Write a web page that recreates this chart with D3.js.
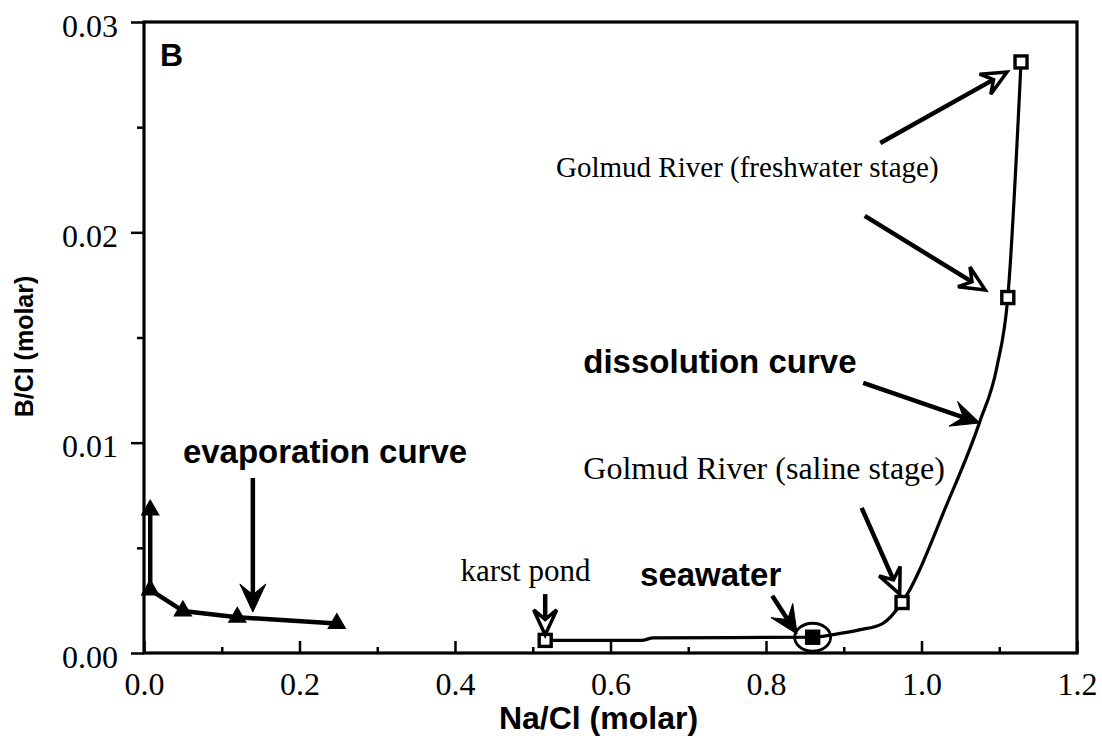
<!DOCTYPE html>
<html>
<head>
<meta charset="utf-8">
<script src="https://cdn.jsdelivr.net/npm/d3@7"></script>
<style>
  html, body { margin: 0; padding: 0; background: #fff; }
  svg { display: block; }
</style>
</head>
<body>
<svg id="chart" width="1102" height="741"></svg>
<script>
// Na/Cl vs B/Cl (molar ratios)

// Evaporation curve samples (filled triangles)
const evapNaCl = [0.008, 0.008, 0.050, 0.120, 0.248];
const evapBCl  = [0.0068, 0.0030, 0.0020, 0.0017, 0.0014];

// Dissolution curve trace
const dissNaCl = [0.516, 0.640, 0.655, 0.860, 0.890, 0.920, 0.950, 0.975, 1.033, 1.075, 1.097, 1.111, 1.128];
const dissBCl  = [0.0006, 0.0006, 0.00072, 0.00075, 0.0009, 0.0011, 0.0014, 0.0024, 0.0071, 0.0110, 0.0136, 0.0169, 0.0281];

// Water samples (squares)
const sampleNames = ["karst pond", "seawater", "saline stage", "freshwater stage", "freshwater stage"];
const sampleNaCl  = [0.516, 0.860, 0.975, 1.111, 1.128];
const sampleBCl   = [0.0006, 0.00075, 0.0024, 0.0169, 0.0281];
const sampleFilled = [false, true, false, false, false];

// Axis ticks
const xMajorTicks = [0, 0.2, 0.4, 0.6, 0.8, 1.0, 1.2];
const xMinorTicks = [0.1, 0.3, 0.5, 0.7, 0.9, 1.1];
const yMajorTicks = [0, 0.01, 0.02, 0.03];
const yMinorTicks = [0.005, 0.015, 0.025];

const svg = d3.select("#chart");
const W = 1102, H = 741;
svg.append("rect").attr("width", W).attr("height", H).attr("fill", "#fff");

const x = d3.scaleLinear().domain([0, 1.2]).range([144, 1077]);
const y = d3.scaleLinear().domain([0, 0.03]).range([653, 22]);

const SERIF = "'Liberation Serif', 'Times New Roman', serif";
const SANS = "'Liberation Sans', Arial, Helvetica, sans-serif";

// ---- axes ----
const gx = svg.append("g").attr("transform", `translate(0,${y(0)})`);
gx.call(d3.axisBottom(x).tickValues(xMajorTicks).tickSize(-12).tickFormat(d3.format(".1f")));
const gxm = svg.append("g").attr("transform", `translate(0,${y(0)})`);
gxm.call(d3.axisBottom(x).tickValues(xMinorTicks).tickSize(-6).tickFormat(""));
[gx, gxm].forEach(g => {
  g.select(".domain").remove();
  g.selectAll(".tick line").attr("stroke", "#000").attr("stroke-width", 2.5);
});
gx.selectAll(".tick text")
  .attr("y", 0).attr("dy", 42)
  .attr("font-family", SERIF).attr("font-size", 32).attr("fill", "#000");

const gy = svg.append("g").attr("transform", `translate(${x(0)},0)`);
gy.call(d3.axisLeft(y).tickValues(yMajorTicks).tickSize(13).tickPadding(13).tickFormat(d3.format(".2f")));
const gym = svg.append("g").attr("transform", `translate(${x(0)},0)`);
gym.call(d3.axisLeft(y).tickValues(yMinorTicks).tickSize(7).tickFormat(""));
[gy, gym].forEach(g => {
  g.select(".domain").remove();
  g.selectAll(".tick line").attr("stroke", "#000").attr("stroke-width", 2.5);
});
gy.selectAll(".tick text")
  .attr("dy", 14)
  .attr("font-family", SERIF).attr("font-size", 32).attr("fill", "#000");

// frame
svg.append("rect")
  .attr("x", x(0)).attr("y", y(0.03))
  .attr("width", x(1.2) - x(0)).attr("height", y(0) - y(0.03))
  .attr("fill", "none").attr("stroke", "#000").attr("stroke-width", 3.2);

// axis titles
svg.append("text")
  .attr("x", (x(0) + x(1.2)) / 2 - 12).attr("y", 729)
  .attr("text-anchor", "middle")
  .attr("font-family", SANS).attr("font-weight", "bold").attr("font-size", 32)
  .text("Na/Cl (molar)");
svg.append("text")
  .attr("transform", `translate(33,${(y(0) + y(0.03)) / 2 + 9}) rotate(-90)`)
  .attr("text-anchor", "middle")
  .attr("font-family", SANS).attr("font-weight", "bold").attr("font-size", 25)
  .text("B/Cl (molar)");

// ---- curves ----
const evap = evapNaCl.map((d, i) => [d, evapBCl[i]]);
const diss = dissNaCl.map((d, i) => [d, dissBCl[i]]);

svg.append("path")
  .attr("d", d3.line().x(d => x(d[0])).y(d => y(d[1]))(evap))
  .attr("fill", "none").attr("stroke", "#000").attr("stroke-width", 4.5)
  .attr("stroke-linejoin", "round");

svg.append("path")
  .attr("d", d3.line().x(d => x(d[0])).y(d => y(d[1])).curve(d3.curveMonotoneX)(diss))
  .attr("fill", "none").attr("stroke", "#000").attr("stroke-width", 3.2)
  .attr("stroke-linejoin", "round");

// triangles
svg.selectAll(".tri").data(evap).enter().append("path")
  .attr("class", "tri")
  .attr("transform", d => `translate(${x(d[0])},${y(d[1])})`)
  .attr("d", d3.symbol().type(d3.symbolTriangle).size(160))
  .attr("fill", "#000");

// seawater ellipse
const swIdx = sampleNames.indexOf("seawater");
svg.append("ellipse")
  .attr("cx", x(sampleNaCl[swIdx])).attr("cy", y(sampleBCl[swIdx]))
  .attr("rx", 18).attr("ry", 14)
  .attr("fill", "none").attr("stroke", "#000").attr("stroke-width", 2.8);

// squares
const samples = sampleNaCl.map((d, i) => ({ nx: d, by: sampleBCl[i], filled: sampleFilled[i] }));
svg.selectAll(".sq").data(samples).enter().append("rect")
  .attr("class", "sq")
  .attr("x", d => x(d.nx) - 6).attr("y", d => y(d.by) - 6)
  .attr("width", 12).attr("height", 12)
  .attr("fill", d => d.filled ? "#000" : "#fff")
  .attr("stroke", "#000").attr("stroke-width", 3.4);

// ---- annotations ----
// arrow: from [NaCl, BCl] to [NaCl, BCl]; head "solid" or "open"
const arrows = [
  { from: [0.140, 0.00832], to: [0.140, 0.00195], head: "solid" },
  { from: [0.516, 0.00280], to: [0.516, 0.00086], head: "open" },
  { from: [0.808, 0.00272], to: [0.840, 0.00090], head: "solid" },
  { from: [0.923, 0.00690], to: [0.972, 0.00280], head: "open" },
  { from: [0.925, 0.01284], to: [1.075, 0.01094], head: "solid" },
  { from: [0.927, 0.02078], to: [1.082, 0.01726], head: "open" },
  { from: [0.947, 0.02425], to: [1.110, 0.02762], head: "open" }
];

function drawArrow(a) {
  const x1 = x(a.from[0]), y1 = y(a.from[1]);
  const x2 = x(a.to[0]), y2 = y(a.to[1]);
  const ang = Math.atan2(y2 - y1, x2 - x1);
  const L = a.head === "solid" ? 28 : 25;
  const hw = a.head === "solid" ? 13 : 11.5;
  const notch = L * 0.62;
  const ca = Math.cos(ang), sa = Math.sin(ang);
  const pt = (u, v) => [x2 + u * ca - v * sa, y2 + u * sa + v * ca];
  const back = pt(-notch, 0);
  svg.append("line")
    .attr("x1", x1).attr("y1", y1).attr("x2", back[0]).attr("y2", back[1])
    .attr("stroke", "#000").attr("stroke-width", 4.5);
  const poly = [pt(0, 0), pt(-L, hw), back, pt(-L, -hw)];
  svg.append("path")
    .attr("d", "M" + poly.map(p => p.join(",")).join("L") + "Z")
    .attr("fill", a.head === "solid" ? "#000" : "#fff")
    .attr("stroke", "#000").attr("stroke-width", a.head === "solid" ? 1 : 3.5)
    .attr("stroke-linejoin", "miter");
}
arrows.forEach(drawArrow);

// labels: anchored by left edge / baseline in data units
const labels = [
  { text: "B", at: [0.0206, 0.0279], font: SANS, bold: true, size: 32 },
  { text: "evaporation curve", at: [0.050, 0.00903], font: SANS, bold: true, size: 33 },
  { text: "dissolution curve", at: [0.565, 0.01331], font: SANS, bold: true, size: 33 },
  { text: "seawater", at: [0.638, 0.00320], font: SANS, bold: true, size: 33 },
  { text: "karst pond", at: [0.407, 0.00340], font: SERIF, bold: false, size: 31 },
  { text: "Golmud River (saline stage)", at: [0.565, 0.00825], font: SERIF, bold: false, size: 32 },
  { text: "Golmud River (freshwater stage)", at: [0.530, 0.02263], font: SERIF, bold: false, size: 29 }
];
svg.selectAll(".lbl").data(labels).enter().append("text")
  .attr("class", "lbl")
  .attr("x", d => x(d.at[0])).attr("y", d => y(d.at[1]))
  .attr("font-family", d => d.font)
  .attr("font-weight", d => d.bold ? "bold" : "normal")
  .attr("font-size", d => d.size)
  .attr("fill", "#000")
  .text(d => d.text);
</script>
</body>
</html>
